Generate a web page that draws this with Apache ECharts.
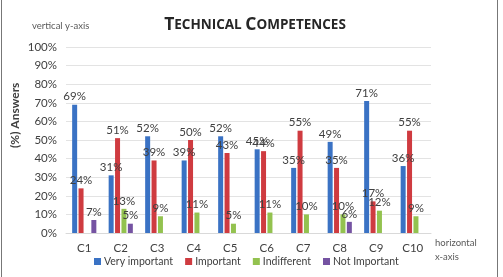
<!DOCTYPE html>
<html>
<head>
<meta charset="utf-8">
<script src="https://cdn.jsdelivr.net/npm/echarts@6/dist/echarts.min.js"></script>
<style>
  html, body { margin: 0; padding: 0; background: #fff; }
  #chart { width: 503px; height: 277px; }
  #frame { position: absolute; left: 1px; top: -2px; width: 495px; height: 290px;
           border-left: 1px solid #777; border-right: 1px solid #777; pointer-events: none; }
</style>
</head>
<body>
<div id="chart"></div>
<div id="frame"></div>
<script>
// categories and series (percent of answers)
var categories = ['C1', 'C2', 'C3', 'C4', 'C5', 'C6', 'C7', 'C8', 'C9', 'C10'];
var veryImportant = [69, 31, 52, 39, 52, 45, 35, 49, 71, 36];
var important     = [24, 51, 39, 50, 43, 44, 55, 35, 17, 55];
var indifferent   = [0, 13, 9, 11, 5, 11, 10, 10, 12, 9];
var notImportant  = [7, 5, 0, 0, 0, 0, 0, 6, 0, 0];
var yTicks = [0, 10, 20, 30, 40, 50, 60, 70, 80, 90, 100];

var chart = echarts.init(document.getElementById('chart'));
var font = 'Lato';

function bar(name, data, color) {
    return {
        name: name,
        type: 'bar',
        data: data,
        barWidth: 5,
        barGap: '28%',
        itemStyle: { color: color },
        label: {
            show: true,
            position: 'top',
            distance: 2,
            fontFamily: font,
            fontSize: 11.5,
            color: '#404040',
            formatter: function (p) { return p.value ? p.value + '%' : ''; }
        }
    };
}

var option = {
    animation: false,
    title: {
        text: '{b|T}{s|ECHNICAL }{b|C}{s|OMPETENCES}',
        left: 250,
        textAlign: 'center',
        top: 11,
        textStyle: {
            rich: {
                b: { fontFamily: 'Open Sans', fontWeight: 'bold', fontSize: 17.5, color: '#262626' },
                s: { fontFamily: 'Open Sans', fontWeight: 'bold', fontSize: 13.5, color: '#262626' }
            }
        }
    },
    legend: {
        bottom: 5,
        left: 89,
        itemWidth: 7,
        itemHeight: 7,
        itemGap: 12,
        icon: 'rect',
        textStyle: { fontFamily: font, fontSize: 10.5, color: '#404040', padding: [0, 0, 0, -2] },
        data: ['Very important', 'Important', 'Indifferent', 'Not Important']
    },
    grid: { left: 66, right: 72, top: 47, bottom: 44 },
    xAxis: {
        type: 'category',
        data: categories,
        axisTick: { show: false },
        axisLine: { lineStyle: { color: '#d9d9d9' } },
        axisLabel: { fontFamily: font, fontSize: 11.5, color: '#404040', margin: 9 }
    },
    yAxis: {
        type: 'value',
        min: yTicks[0],
        max: yTicks[yTicks.length - 1],
        interval: 10,
        axisLabel: { fontFamily: font, fontSize: 11.5, color: '#404040', margin: 9,
                     formatter: '{value}%' },
        splitLine: { lineStyle: { color: '#e3e3e3' } },
        axisLine: { show: false },
        axisTick: { show: false }
    },
    graphic: [
        { type: 'text', left: 32, top: 21,
          style: { text: 'vertical y-axis', fontFamily: font, fontSize: 9.5, fill: '#595959' } },
        { type: 'text', left: 435, top: 236,
          style: { text: 'horizontal\nx-axis', fontFamily: font, fontSize: 9.5, lineHeight: 14, fill: '#595959' } },
        { type: 'text', x: 9, y: 148, rotation: Math.PI / 2,
          style: { text: '(%) Answers', fontFamily: font, fontWeight: 'bold', fontSize: 12, fill: '#404040' } }
    ],
    series: [
        bar('Very important', veryImportant, '#3a72c4'),
        bar('Important', important, '#cf3b40'),
        bar('Indifferent', indifferent, '#93c24f'),
        bar('Not Important', notImportant, '#7553a2')
    ]
};

chart.setOption(option);
</script>
</body>
</html>
